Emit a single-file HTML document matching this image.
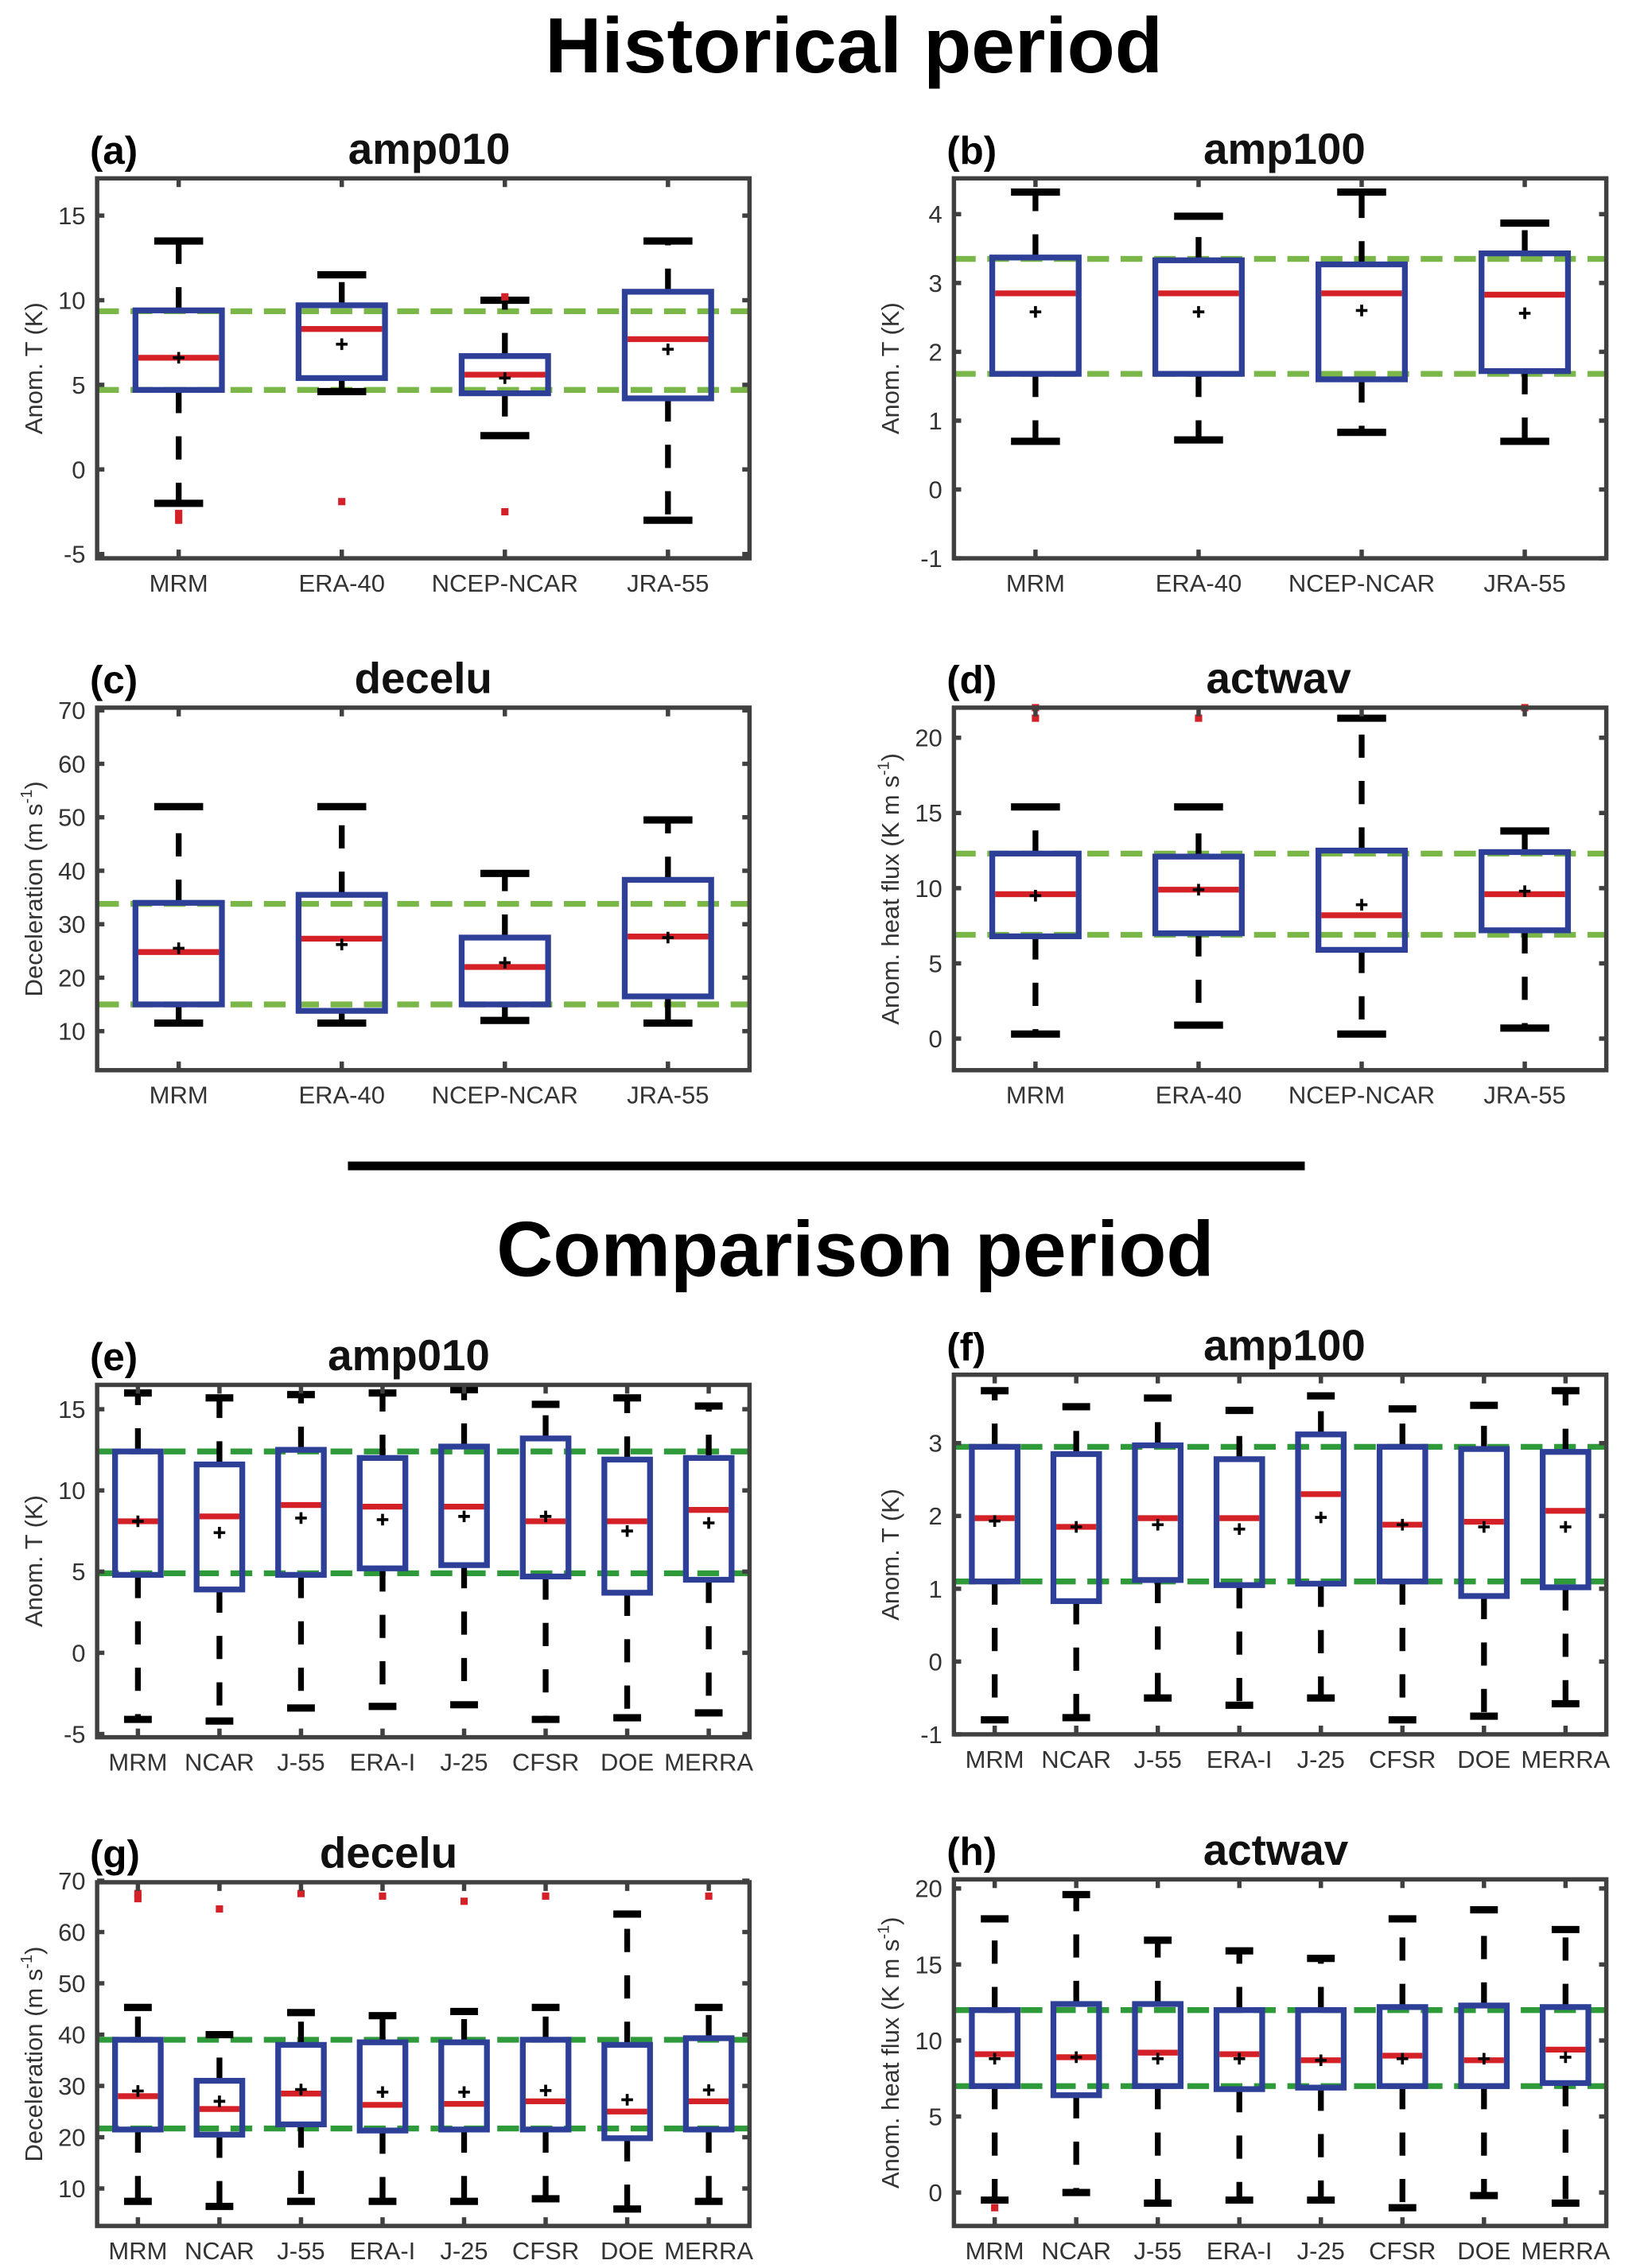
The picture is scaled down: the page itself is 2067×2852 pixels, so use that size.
<!DOCTYPE html>
<html><head><meta charset="utf-8"><style>
html,body{margin:0;padding:0;background:#fff}
svg{display:block}
text{font-family:"Liberation Sans",Arial,sans-serif}
</style></head><body>
<svg id="fig" width="2067" height="2852" viewBox="0 0 1134 1564" preserveAspectRatio="none" xmlns="http://www.w3.org/2000/svg">
<rect width="1134" height="1564" fill="#fff"/>
<text x="589" y="50" text-anchor="middle" font-size="54" font-weight="bold" fill="#000">Historical period</text>
<line x1="240" y1="804" x2="900" y2="804" stroke="#000" stroke-width="6"/>
<text x="590" y="880" text-anchor="middle" font-size="54" font-weight="bold" fill="#000">Comparison period</text>
</svg>
<script>
const cats4 = ["MRM","ERA-40","NCEP-NCAR","JRA-55"];
const cats8 = ["MRM","NCAR","J-55","ERA-I","J-25","CFSR","DOE","MERRA"];

// (a) amp010 historical
const aLow=[-2,4.6,2.0,-3.0], aQ1=[4.7,5.4,4.5,4.2], aMed=[6.6,8.3,5.6,7.7], aQ3=[9.4,9.7,6.7,10.5], aHigh=[13.5,11.5,10.0,13.5], aMean=[6.6,7.4,5.4,7.1];
const aOut=[[-2.6,-3.0],[-1.9],[10.2,-2.5],[]], aRef=[9.35,4.7], aTicks=[-5,0,5,10,15];
// (b) amp100 historical
const bLow=[0.7,0.72,0.83,0.7], bQ1=[1.68,1.68,1.6,1.72], bMed=[2.85,2.85,2.85,2.83], bQ3=[3.37,3.33,3.27,3.43], bHigh=[4.32,3.97,4.32,3.87], bMean=[2.58,2.58,2.6,2.56];
const bOut=[[],[],[],[]], bRef=[3.35,1.68], bTicks=[-1,0,1,2,3,4];
// (c) decelu historical
const cLow=[11.5,11.5,12,11.5], cQ1=[15,13.8,15,16.5], cMed=[24.8,27.3,22,27.7], cQ3=[34,35.5,27.5,38.3], cHigh=[52,52,39.5,49.5], cMean=[25.5,26.2,22.8,27.5];
const cOut=[[],[],[],[]], cRef=[33.8,15], cTicks=[10,20,30,40,50,60,70];
// (d) actwav historical
const dLow=[0.3,0.9,0.3,0.7], dQ1=[6.8,7.0,5.9,7.2], dMed=[9.6,9.9,8.2,9.6], dQ3=[12.3,12.1,12.5,12.4], dHigh=[15.4,15.4,21.3,13.8], dMean=[9.5,9.9,8.9,9.8];
const dOut=[[21.3,22],[21.3],[],[22]], dRef=[12.3,6.9], dTicks=[0,5,10,15,20];
// (e) amp010 comparison
const eLow=[-4.1,-4.2,-3.4,-3.3,-3.2,-4.1,-4,-3.7], eQ1=[4.8,3.9,4.8,5.2,5.4,4.7,3.7,4.5], eMed=[8.1,8.4,9.1,9.0,9.0,8.1,8.1,8.8], eQ3=[12.4,11.6,12.5,12.0,12.7,13.2,11.9,12.0], eHigh=[16,15.7,15.9,16.0,16.2,15.3,15.7,15.2], eMean=[8.1,7.4,8.3,8.2,8.4,8.4,7.5,8.0];
const eOut=[[],[],[],[],[],[],[],[]], eRef=[12.4,4.9], eTicks=[-5,0,5,10,15];
// (f) amp100 comparison
const fLow=[-0.8,-0.77,-0.5,-0.6,-0.5,-0.8,-0.75,-0.58], fQ1=[1.1,0.83,1.12,1.05,1.07,1.1,0.9,1.02], fMed=[1.97,1.85,1.97,1.97,2.3,1.88,1.92,2.07], fQ3=[2.95,2.85,2.97,2.78,3.12,2.95,2.92,2.88], fHigh=[3.72,3.5,3.62,3.45,3.65,3.47,3.52,3.72], fMean=[1.93,1.85,1.88,1.82,1.98,1.88,1.85,1.85];
const fOut=[[],[],[],[],[],[],[],[]], fRef=[2.95,1.1], fTicks=[-1,0,1,2,3];
// (g) decelu comparison
const gLow=[7.5,6.5,7.5,7.5,7.5,8,6,7.5], gQ1=[21.5,20.5,22.5,21.3,21.5,21.5,19.8,21.5], gMed=[28,25.5,28.5,26.3,26.5,27,25,27], gQ3=[39,31,38,38.5,38.5,39,38,39.3], gHigh=[45.3,40,44.3,43.7,44.5,45.3,63.5,45.3], gMean=[29,27,29.3,28.8,28.8,29.1,27.3,29.2];
const gOut=[[66.5,67.5],[64.5],[67.5],[67],[66],[67],[],[67]], gRef=[39,21.7], gTicks=[10,20,30,40,50,60,70];
// (h) actwav comparison
const hLow=[-0.5,0,-0.7,-0.5,-0.5,-1,-0.2,-0.7], hQ1=[7,6.4,7,6.8,6.9,7,7,7.2], hMed=[9.1,8.9,9.2,9.1,8.7,9,8.7,9.4], hQ3=[12,12.4,12.4,12,12,12.2,12.3,12.2], hHigh=[18,19.6,16.6,15.9,15.4,18,18.6,17.3], hMean=[8.8,8.9,8.8,8.8,8.7,8.8,8.8,8.9];
const hOut=[[-1],[],[],[],[],[],[],[]], hRef=[12,7], hTicks=[0,5,10,15,20];

const NS="http://www.w3.org/2000/svg";
const svg=document.getElementById('fig');
function mk(tag,attrs,parent){const e=document.createElementNS(NS,tag);for(const k in attrs)e.setAttribute(k,attrs[k]);(parent||svg).appendChild(e);return e;}

function panel(p){
  const g=mk('g',{});
  
  
  const n=p.cats.length;
  const X=i=>p.x0+(p.x1-p.x0)*(i+0.5)/n;
  const Y=v=>p.y1-(v-p.lo)/(p.hi-p.lo)*(p.y1-p.y0);
  const sp=(p.x1-p.x0)/n, bw=sp*(n===4?0.53:0.56), cw=sp*(n===4?0.3:0.34);
  p.ref.forEach((r,k)=>{const l=mk('line',{x1:p.x0,x2:p.x1,y1:Y(r),y2:Y(r),stroke:p.green,'stroke-width':4,'stroke-dasharray':'15 8'},g);
    
    });
  for(let i=0;i<n;i++){
    const bx=mk('g',{},g);
    
    
    const cx=X(i);
    mk('line',{x1:cx,x2:cx,y1:Y(p.q3[i]),y2:Y(p.high[i]),stroke:'#000','stroke-width':4,'stroke-dasharray':'16 16'},bx);
    mk('line',{x1:cx,x2:cx,y1:Y(p.q1[i]),y2:Y(p.low[i]),stroke:'#000','stroke-width':4,'stroke-dasharray':'16 16'},bx);
    mk('line',{x1:cx-cw/2,x2:cx+cw/2,y1:Y(p.high[i]),y2:Y(p.high[i]),stroke:'#000','stroke-width':5},bx);
    mk('line',{x1:cx-cw/2,x2:cx+cw/2,y1:Y(p.low[i]),y2:Y(p.low[i]),stroke:'#000','stroke-width':5},bx);
    mk('rect',{x:cx-bw/2,y:Y(p.q3[i]),width:bw,height:Y(p.q1[i])-Y(p.q3[i]),fill:'none',stroke:'#2e3f97','stroke-width':4},bx);
    mk('line',{x1:cx-bw/2+2,x2:cx+bw/2-2,y1:Y(p.med[i]),y2:Y(p.med[i]),stroke:'#d42027','stroke-width':4},bx);
    const my=Y(p.mean[i]);
    mk('path',{d:`M${cx-4},${my}H${cx+4}M${cx},${my-4}V${my+4}`,stroke:'#000','stroke-width':2},bx);
    p.out[i].forEach(o=>mk('rect',{x:cx-2.5,y:Y(o)-2.5,width:5,height:5,fill:'#d42027'},bx));
  }
  const ax=mk('rect',{x:p.x0,y:p.y0,width:p.x1-p.x0,height:p.y1-p.y0,fill:'none',stroke:'#404040','stroke-width':3},g);
  
  
  p.ticks.forEach(t=>{const y=Y(t);
    mk('line',{x1:p.x0,x2:p.x0+5,y1:y,y2:y,stroke:'#404040','stroke-width':3},g);
    mk('line',{x1:p.x1,x2:p.x1-5,y1:y,y2:y,stroke:'#404040','stroke-width':3},g);
    const tl=mk('text',{x:p.x0-8,y:y+6,'text-anchor':'end','font-size':17,fill:'#333'},g);tl.textContent=t;
    
    });
  for(let i=0;i<n;i++){const x=X(i);
    mk('line',{x1:x,x2:x,y1:p.y1,y2:p.y1-6,stroke:'#404040','stroke-width':3},g);
    mk('line',{x1:x,x2:x,y1:p.y0,y2:p.y0+6,stroke:'#404040','stroke-width':3},g);
    const xl=mk('text',{x:x,y:p.y1+23,'text-anchor':'middle','font-size':17,fill:'#333'},g);xl.textContent=p.cats[i];
    
    }
  const yl=mk('text',{transform:`translate(${p.x0-38},${(p.y0+p.y1)/2}) rotate(-90)`,'text-anchor':'middle','font-size':17,fill:'#333'},g);
  
  
  yl.innerHTML=p.ylab;
  const pl=mk('text',{x:p.x0-5,y:p.y0-10,'font-size':27,'font-weight':'bold',fill:'#000'},g);pl.textContent='('+p.id+')';
  
  
  const ti=mk('text',{x:p.tx,y:p.y0-10,'text-anchor':'middle','font-size':30,'font-weight':'bold',fill:'#111'},g);ti.textContent=p.title;
  
  
}
const G1='#7ab648', G2='#2e9a3a';
const L0=67,L1=517,R0=658,R1=1108;
const labT='Anom. T (K)', labD='Deceleration (m s<tspan dy="-7" font-size="11">-1</tspan><tspan dy="7">)</tspan>', labH='Anom. heat flux (K m s<tspan dy="-7" font-size="11">-1</tspan><tspan dy="7">)</tspan>';
panel({id:'a',title:'amp010',tx:296,cats:cats4,x0:L0,x1:L1,y0:123,y1:385,lo:-5.25,hi:17.2,low:aLow,q1:aQ1,med:aMed,q3:aQ3,high:aHigh,mean:aMean,out:aOut,ref:aRef,ticks:aTicks,green:G1,ylab:labT});
panel({id:'b',title:'amp100',tx:886,cats:cats4,x0:R0,x1:R1,y0:123,y1:385,lo:-1,hi:4.52,low:bLow,q1:bQ1,med:bMed,q3:bQ3,high:bHigh,mean:bMean,out:bOut,ref:bRef,ticks:bTicks,green:G1,ylab:labT});
panel({id:'c',title:'decelu',tx:292,cats:cats4,x0:L0,x1:L1,y0:488,y1:738,lo:2.7,hi:70.5,low:cLow,q1:cQ1,med:cMed,q3:cQ3,high:cHigh,mean:cMean,out:cOut,ref:cRef,ticks:cTicks,green:G1,ylab:labD});
panel({id:'d',title:'actwav',tx:882,cats:cats4,x0:R0,x1:R1,y0:488,y1:738,lo:-2.1,hi:22,low:dLow,q1:dQ1,med:dMed,q3:dQ3,high:dHigh,mean:dMean,out:dOut,ref:dRef,ticks:dTicks,green:G1,ylab:labH});
panel({id:'e',title:'amp010',tx:282,cats:cats8,x0:L0,x1:L1,y0:955,y1:1198,lo:-5.2,hi:16.5,low:eLow,q1:eQ1,med:eMed,q3:eQ3,high:eHigh,mean:eMean,out:eOut,ref:eRef,ticks:eTicks,green:G2,ylab:labT});
panel({id:'f',title:'amp100',tx:886,cats:cats8,x0:R0,x1:R1,y0:948,y1:1196,lo:-1,hi:3.94,low:fLow,q1:fQ1,med:fMed,q3:fQ3,high:fHigh,mean:fMean,out:fOut,ref:fRef,ticks:fTicks,green:G2,ylab:labT});
panel({id:'g',title:'decelu',tx:268,cats:cats8,x0:L0,x1:L1,y0:1298,y1:1535,lo:2.7,hi:69.7,low:gLow,q1:gQ1,med:gMed,q3:gQ3,high:gHigh,mean:gMean,out:gOut,ref:gRef,ticks:gTicks,green:G2,ylab:labD});
panel({id:'h',title:'actwav',tx:880,cats:cats8,x0:R0,x1:R1,y0:1296,y1:1535,lo:-2.2,hi:20.6,low:hLow,q1:hQ1,med:hMed,q3:hQ3,high:hHigh,mean:hMean,out:hOut,ref:hRef,ticks:hTicks,green:G2,ylab:labH});
</script>
</body></html>
